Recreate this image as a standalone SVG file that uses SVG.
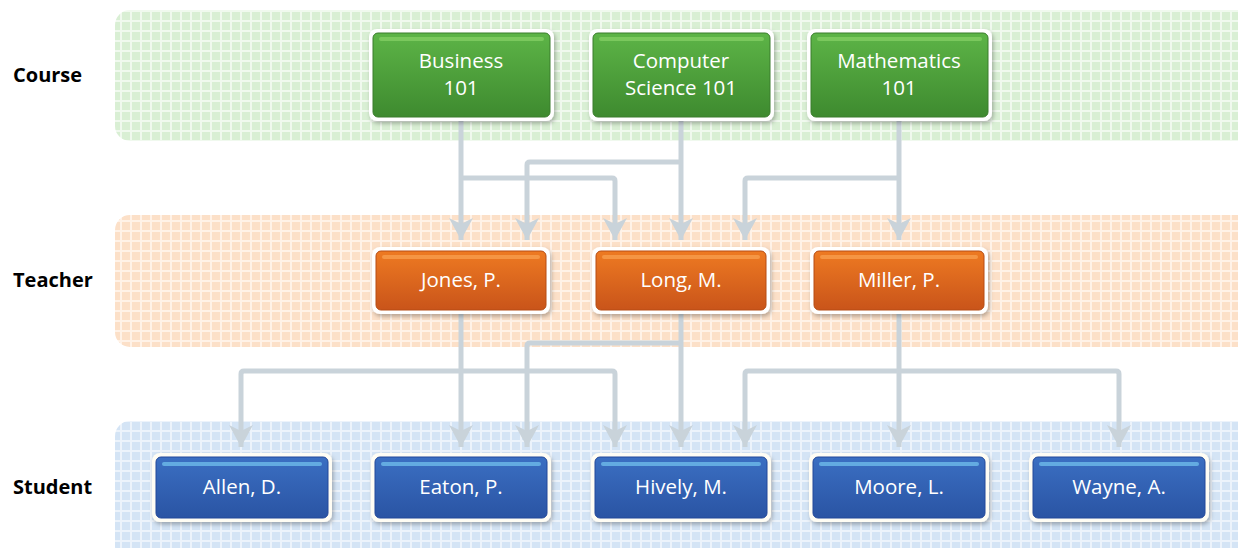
<svg xmlns="http://www.w3.org/2000/svg" width="1238" height="548" viewBox="0 0 1238 548">
  <style>
    .lane-label { font-family: "Open Sans", "Liberation Sans", sans-serif; font-weight: 700; font-size: 20px; fill: #000; }
    .node-text { font-family: "Open Sans", "Liberation Sans", sans-serif; font-size: 20.5px; fill: #ffffff; text-anchor: middle; }
    .frame { fill: #ffffff; filter: url(#shadow); }
    .link { fill: none; stroke: #c9d3da; stroke-width: 5; marker-end: url(#arrow); }
    .shine { opacity: 0.75; }
    .course .body { fill: url(#gGreen); stroke: #3b7d2c; stroke-width: 1; }
    .course .shine { fill: #86d066; }
    .teacher .body { fill: url(#gOrange); stroke: #b64c14; stroke-width: 1; }
    .teacher .shine { fill: #f8a050; }
    .student .frame { fill: #fffdf4; }
    .student .body { fill: url(#gBlue); stroke: #23489a; stroke-width: 1; }
    .student .shine { fill: #72c0ec; }
  </style>
  <defs>
    <pattern id="gridGreen" width="10" height="10" patternUnits="userSpaceOnUse">
      <rect width="10" height="10" fill="#f0f9ee"/>
      <rect x="2" y="2" width="8" height="8" fill="#d9efd4"/>
    </pattern>
    <pattern id="gridOrange" width="10" height="10" patternUnits="userSpaceOnUse">
      <rect width="10" height="10" fill="#fff2e7"/>
      <rect x="2" y="2" width="8" height="8" fill="#fce0c8"/>
    </pattern>
    <pattern id="gridBlue" width="10" height="10" patternUnits="userSpaceOnUse">
      <rect width="10" height="10" fill="#ecf3fb"/>
      <rect x="2" y="2" width="8" height="8" fill="#d4e4f5"/>
    </pattern>
    <linearGradient id="gGreen" x1="0" y1="0" x2="0" y2="1">
      <stop offset="0" stop-color="#5db447"/>
      <stop offset="1" stop-color="#3e8a2f"/>
    </linearGradient>
    <linearGradient id="gOrange" x1="0" y1="0" x2="0" y2="1">
      <stop offset="0" stop-color="#ee7a22"/>
      <stop offset="1" stop-color="#c9541a"/>
    </linearGradient>
    <linearGradient id="gBlue" x1="0" y1="0" x2="0" y2="1">
      <stop offset="0" stop-color="#3b6fc2"/>
      <stop offset="1" stop-color="#2a54a4"/>
    </linearGradient>
    <filter id="shadow" x="-10%" y="-20%" width="125%" height="150%">
      <feDropShadow dx="1.5" dy="2.5" stdDeviation="2" flood-color="#000" flood-opacity="0.28"/>
    </filter>
    <marker id="arrow" viewBox="0 -12 22 24" refX="22" refY="0" markerWidth="22" markerHeight="24" markerUnits="userSpaceOnUse" orient="auto">
      <path d="M22,0 L0,-12 L6,0 L0,12 Z" fill="#c9d3da"/>
    </marker>
  </defs>

  <!-- swim lanes -->
  <g id="lanes">
    <rect x="115" y="10" width="1140" height="131" rx="15" fill="url(#gridGreen)"/>
    <rect x="115" y="215" width="1140" height="132" rx="15" fill="url(#gridOrange)"/>
    <rect x="115" y="421" width="1140" height="140" rx="15" fill="url(#gridBlue)"/>
    <text class="lane-label" x="13" y="82">Course</text>
    <text class="lane-label" x="13" y="287">Teacher</text>
    <text class="lane-label" x="13" y="494">Student</text>
  </g>

  <!-- connectors -->
  <g id="connectors">
    <path class="link" d="M461,118 V240"/>
    <path class="link" d="M461,178 H612 Q615,178 615,181 V240"/>
    <path class="link" d="M681,118 V240"/>
    <path class="link" d="M681,162 H530 Q527,162 527,165 V240"/>
    <path class="link" d="M899,118 V240"/>
    <path class="link" d="M899,178 H748 Q745,178 745,181 V240"/>

    <path class="link" d="M461,312 V447"/>
    <path class="link" d="M461,371 H244 Q241,371 241,374 V447"/>
    <path class="link" d="M461,371 H612 Q615,371 615,374 V447"/>
    <path class="link" d="M681,312 V447"/>
    <path class="link" d="M681,343 H530 Q527,343 527,346 V447"/>
    <path class="link" d="M899,312 V447"/>
    <path class="link" d="M899,371 H748 Q745,371 745,374 V447"/>
    <path class="link" d="M899,371 H1116 Q1119,371 1119,374 V447"/>
  </g>

  <!-- courses -->
  <g id="course-business" class="course">
    <rect class="frame" x="369" y="29" width="185" height="92" rx="8"/>
    <rect class="body" x="373" y="33" width="177" height="84" rx="5"/>
    <rect class="shine" x="379" y="37" width="165" height="4" rx="2"/>
    <text class="node-text" x="461" y="68">Business</text>
    <text class="node-text" x="461" y="95">101</text>
  </g>
  <g id="course-cs" class="course">
    <rect class="frame" x="589" y="29" width="185" height="92" rx="8"/>
    <rect class="body" x="593" y="33" width="177" height="84" rx="5"/>
    <rect class="shine" x="599" y="37" width="165" height="4" rx="2"/>
    <text class="node-text" x="681" y="68">Computer</text>
    <text class="node-text" x="681" y="95">Science 101</text>
  </g>
  <g id="course-math" class="course">
    <rect class="frame" x="807" y="29" width="185" height="92" rx="8"/>
    <rect class="body" x="811" y="33" width="177" height="84" rx="5"/>
    <rect class="shine" x="817" y="37" width="165" height="4" rx="2"/>
    <text class="node-text" x="899" y="68">Mathematics</text>
    <text class="node-text" x="899" y="95">101</text>
  </g>

  <!-- teachers -->
  <g id="teacher-jones" class="teacher">
    <rect class="frame" x="372" y="247" width="178" height="67" rx="8"/>
    <rect class="body" x="376" y="251" width="170" height="59" rx="5"/>
    <rect class="shine" x="382" y="255" width="158" height="4" rx="2"/>
    <text class="node-text" x="461" y="287">Jones, P.</text>
  </g>
  <g id="teacher-long" class="teacher">
    <rect class="frame" x="592" y="247" width="178" height="67" rx="8"/>
    <rect class="body" x="596" y="251" width="170" height="59" rx="5"/>
    <rect class="shine" x="602" y="255" width="158" height="4" rx="2"/>
    <text class="node-text" x="681" y="287">Long, M.</text>
  </g>
  <g id="teacher-miller" class="teacher">
    <rect class="frame" x="810" y="247" width="178" height="67" rx="8"/>
    <rect class="body" x="814" y="251" width="170" height="59" rx="5"/>
    <rect class="shine" x="820" y="255" width="158" height="4" rx="2"/>
    <text class="node-text" x="899" y="287">Miller, P.</text>
  </g>

  <!-- students -->
  <g id="student-allen" class="student">
    <rect class="frame" x="152" y="453" width="180" height="69" rx="8"/>
    <rect class="body" x="156" y="457" width="172" height="61" rx="5"/>
    <rect class="shine" x="162" y="462" width="160" height="4" rx="2"/>
    <text class="node-text" x="242" y="494">Allen, D.</text>
  </g>
  <g id="student-eaton" class="student">
    <rect class="frame" x="371" y="453" width="180" height="69" rx="8"/>
    <rect class="body" x="375" y="457" width="172" height="61" rx="5"/>
    <rect class="shine" x="381" y="462" width="160" height="4" rx="2"/>
    <text class="node-text" x="461" y="494">Eaton, P.</text>
  </g>
  <g id="student-hively" class="student">
    <rect class="frame" x="591" y="453" width="180" height="69" rx="8"/>
    <rect class="body" x="595" y="457" width="172" height="61" rx="5"/>
    <rect class="shine" x="601" y="462" width="160" height="4" rx="2"/>
    <text class="node-text" x="681" y="494">Hively, M.</text>
  </g>
  <g id="student-moore" class="student">
    <rect class="frame" x="809" y="453" width="180" height="69" rx="8"/>
    <rect class="body" x="813" y="457" width="172" height="61" rx="5"/>
    <rect class="shine" x="819" y="462" width="160" height="4" rx="2"/>
    <text class="node-text" x="899" y="494">Moore, L.</text>
  </g>
  <g id="student-wayne" class="student">
    <rect class="frame" x="1029" y="453" width="180" height="69" rx="8"/>
    <rect class="body" x="1033" y="457" width="172" height="61" rx="5"/>
    <rect class="shine" x="1039" y="462" width="160" height="4" rx="2"/>
    <text class="node-text" x="1119" y="494">Wayne, A.</text>
  </g>
</svg>
